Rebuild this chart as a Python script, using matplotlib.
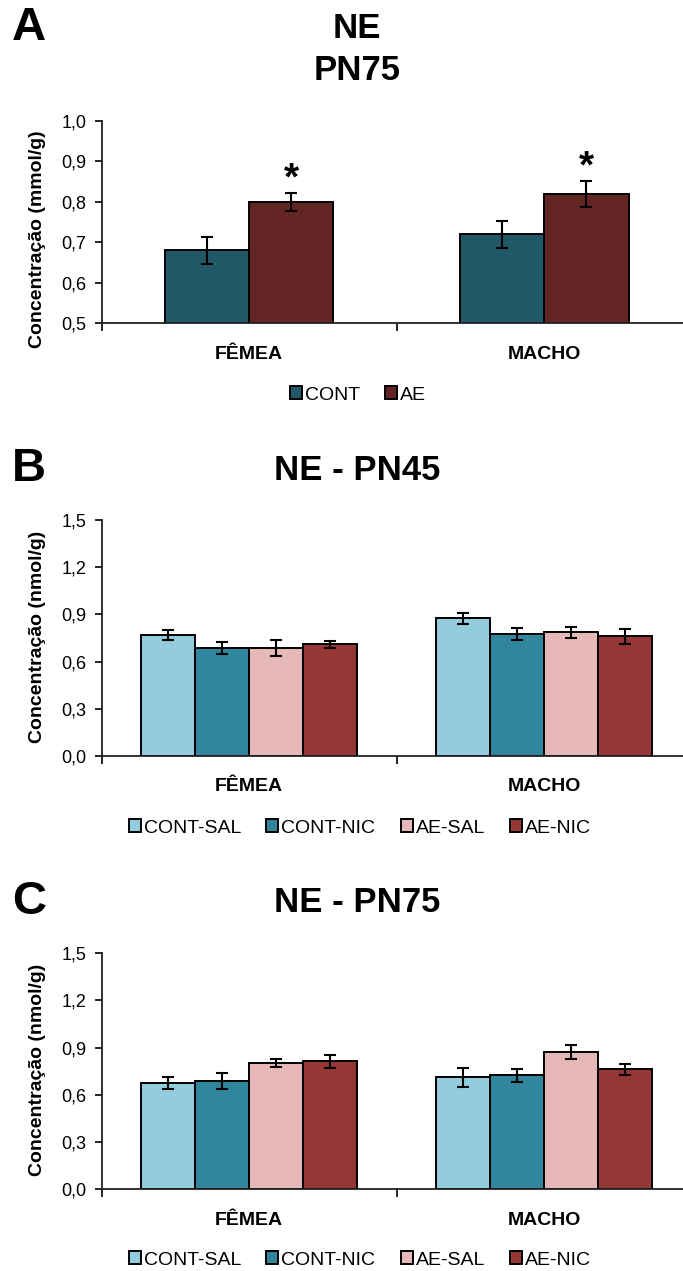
import numpy as np
import matplotlib
matplotlib.use("Agg")
import matplotlib.pyplot as plt
from matplotlib.ticker import FixedLocator

plt.rcParams['font.family'] = ['Liberation Sans', 'DejaVu Sans']

# ---- data ----
sexes = ["FÊMEA", "MACHO"]

groups_a = ["CONT", "AE"]
means_a = [[0.68, 0.72],   # CONT
           [0.80, 0.82]]   # AE
errs_a = [[0.034, 0.033],
          [0.022, 0.032]]
signif_a = [[False, False],
            [True, True]]
colors_a = ["#215968", "#632523"]

groups_bc = ["CONT-SAL", "CONT-NIC", "AE-SAL", "AE-NIC"]
colors_bc = ["#93CDDD", "#31859C", "#E6B9B8", "#953735"]

means_b = [[0.77, 0.875],
           [0.685, 0.775],
           [0.685, 0.785],
           [0.71, 0.76]]
errs_b = [[0.033, 0.037],
          [0.037, 0.038],
          [0.051, 0.037],
          [0.024, 0.049]]

means_c = [[0.673, 0.711],
           [0.688, 0.723],
           [0.80, 0.874],
           [0.812, 0.762]]
errs_c = [[0.039, 0.059],
          [0.052, 0.039],
          [0.026, 0.045],
          [0.039, 0.034]]

W, H = 683, 1271
fig = plt.figure(figsize=(W / 100, H / 100), dpi=100)


def fx(px):
    return px / W


def fy(py):
    return 1 - py / H


def make_axes(top_px, bottom_px):
    left = fx(101.5)
    right = fx(692)
    return fig.add_axes([left, fy(bottom_px), right - left, fy(top_px) - fy(bottom_px)])


def style_axes(ax, ylim, yticks, ylabel, ylabel_y):
    ax.set_xlim(-0.5, 1.5)
    ax.set_ylim(*ylim)
    ax.set_yticks(yticks)
    ax.set_yticklabels([f"{t:.1f}".replace(".", ",") for t in yticks], fontsize=13)
    ax.tick_params(axis='y', direction='out', length=5, width=1.2, pad=6, colors='black')
    ax.set_xticks([0, 1])
    ax.set_xticklabels(sexes, fontsize=14, fontweight='bold')
    ax.tick_params(axis='x', which='major', length=0, pad=16)
    ax.xaxis.set_minor_locator(FixedLocator([-0.5, 0.5, 1.5]))
    ax.tick_params(axis='x', which='minor', direction='out', length=6, width=1.2)
    for s in ['top', 'right']:
        ax.spines[s].set_visible(False)
    for s in ['left', 'bottom']:
        ax.spines[s].set_linewidth(1.3)
        ax.spines[s].set_color('#222222')
    fig.text(fx(38), fy(ylabel_y), ylabel, rotation=90, ha='center', va='center',
             fontsize=14, fontweight='bold')


def draw_bars(ax, means, errs, colors, labels, width):
    n = len(means)
    x = np.arange(len(sexes))
    bars = []
    for i in range(n):
        off = (i - (n - 1) / 2) * width
        b = ax.bar(x + off, means[i], width, color=colors[i], edgecolor='black',
                   linewidth=1.4, label=labels[i], zorder=2,
                   yerr=errs[i], capsize=4.2,
                   error_kw=dict(elinewidth=1.5, capthick=1.5, ecolor='black', zorder=3))
        bars.append((x + off, b))
    return bars


def add_legend(ax, x_px, y_px):
    leg = ax.legend(loc='center', bbox_to_anchor=(fx(x_px), fy(y_px)),
                    bbox_transform=fig.transFigure, ncol=4, frameon=False,
                    fontsize=14, handlelength=0.62, handleheight=0.62,
                    handletextpad=0.15, columnspacing=1.3, borderpad=0)
    for h in leg.legend_handles:
        h.set_linewidth(1.4)
        h.set_edgecolor('black')
    return leg


def panel_title(letter, title_lines, letter_y, title_ys):
    fig.text(fx(29), fy(letter_y), letter, ha='center', va='center',
             fontsize=34, fontweight='bold')
    for line, ty in zip(title_lines, title_ys):
        fig.text(fx(357), fy(ty), line, ha='center', va='center',
                 fontsize=25, fontweight='bold')


# ---- Panel A ----
axA = make_axes(121, 323.3)
barsA = draw_bars(axA, means_a, errs_a, colors_a, groups_a, 0.285)
style_axes(axA, (0.5, 1.0), [0.5, 0.6, 0.7, 0.8, 0.9, 1.0],
           "Concentração (mmol/g)", 239)
for (xs, _), m, e, sig in zip(barsA, means_a, errs_a, signif_a):
    for xi, mi, ei, si in zip(xs, m, e, sig):
        if si:
            axA.annotate("*", (xi, mi + ei), xytext=(0, -3), textcoords='offset points',
                         ha='center', va='bottom', fontsize=28, fontweight='bold')
add_legend(axA, 358, 395)
panel_title("A", ["NE", "PN75"], 28, [29, 70])

# ---- Panel B ----
axB = make_axes(520, 756)
draw_bars(axB, means_b, errs_b, colors_bc, groups_bc, 0.183)
style_axes(axB, (0.0, 1.5), [0.0, 0.3, 0.6, 0.9, 1.2, 1.5],
           "Concentração (nmol/g)", 637)
add_legend(axB, 360, 828)
panel_title("B", ["NE - PN45"], 469, [471])

# ---- Panel C ----
axC = make_axes(953, 1189.3)
draw_bars(axC, means_c, errs_c, colors_bc, groups_bc, 0.183)
style_axes(axC, (0.0, 1.5), [0.0, 0.3, 0.6, 0.9, 1.2, 1.5],
           "Concentração (nmol/g)", 1070)
add_legend(axC, 360, 1260)
panel_title("C", ["NE - PN75"], 902, [903])

fig.savefig("out.png", dpi=100, facecolor='white')
